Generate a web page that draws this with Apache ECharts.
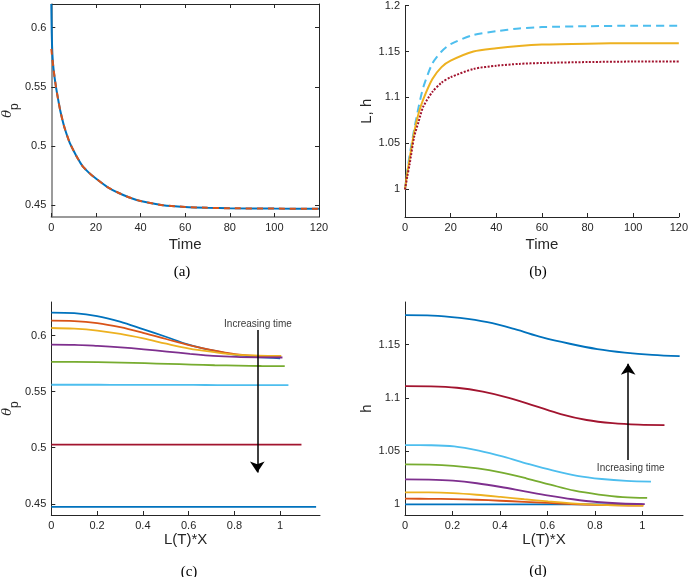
<!DOCTYPE html>
<html>
<head>
<meta charset="utf-8">
<script src="https://cdn.jsdelivr.net/npm/echarts@6/dist/echarts.min.js"></script>
<style>
html,body{margin:0;padding:0;background:#fff;}
#main{width:691px;height:577px;}
</style>
</head>
<body>
<div id="main"></div>
<script>
// (a) theta_p against time
var timeA = [0,1,2,3,4,5,6,8,10,12,14,16,18,20,25,30,35,40,50,60,70,80,100,120];
var thetaDashA = [0.582,0.565,0.551,0.540,0.530,0.522,0.515,0.504,0.496,0.489,0.483,0.479,0.4755,0.4725,0.4655,0.4605,0.4565,0.4535,0.450,0.4485,0.4478,0.4474,0.4471,0.447];
var timeBlueA = [0,0.2,0.5,1,2,3,4,5,6,8,10,12,14,16,18,20,25,30,35,40,50,60,70,80,100,120];
var thetaBlueA = [0.62,0.595,0.577,0.565,0.551,0.540,0.530,0.522,0.515,0.504,0.496,0.489,0.483,0.479,0.4755,0.4725,0.4655,0.4605,0.4565,0.4535,0.450,0.4485,0.4478,0.4474,0.4471,0.447];

// (b) L and h against time
var timeB = [0,1,2,4,6,8,12,16,20,30,40,50,60,80,100,120];
var dashB = [1.0,1.02,1.037,1.065,1.09,1.111,1.137,1.15,1.158,1.168,1.172,1.175,1.1765,1.1775,1.178,1.178];
var solidB = [1.0,1.018,1.033,1.062,1.083,1.098,1.12,1.133,1.14,1.15,1.1535,1.156,1.1575,1.1585,1.159,1.159];
var dotB = [1.0,1.014,1.027,1.057,1.074,1.09,1.106,1.116,1.122,1.131,1.1345,1.1365,1.1375,1.1385,1.139,1.139];

// (c),(d) profiles, X in [0,1] scaled by L(T)
var fracX = [0,0.1,0.2,0.3,0.4,0.5,0.6,0.7,0.8,0.9,1];
var lenT = [1.0,1.003,1.005,1.01,1.02,1.036,1.093,1.157];
var thetaC = [
	[0.6205,0.620,0.6175,0.6125,0.6058,0.599,0.592,0.587,0.583,0.5808,0.5798],
	[0.6133,0.613,0.6112,0.6075,0.6025,0.597,0.5915,0.587,0.5835,0.5818,0.5812],
	[0.6068,0.6062,0.6045,0.6015,0.5975,0.5928,0.5885,0.5855,0.583,0.5822,0.582],
	[0.592,0.5918,0.5908,0.5895,0.5878,0.5858,0.5838,0.582,0.581,0.5806,0.5805],
	[0.5766,0.5766,0.5764,0.576,0.5754,0.5748,0.5742,0.5736,0.5732,0.5729,0.5728],
	[0.5562,0.5562,0.5562,0.5561,0.5561,0.556,0.556,0.5559,0.5559,0.5558,0.5558],
	[0.5028,0.5028,0.5028,0.5028,0.5028,0.5027,0.5027,0.5027,0.5027,0.5027,0.5027],
	[0.4473,0.4473,0.4473,0.4473,0.4473,0.4473,0.4473,0.4473,0.4473,0.4473,0.4473]
];
var hD = [
	[1.0,1.0,1.0,1.0,1.0,1.0,1.0,1.0,1.0,1.0,1.0],
	[1.0053,1.0052,1.0049,1.0043,1.0034,1.0024,1.0013,1.0003,0.9995,0.999,0.9988],
	[1.0113,1.0112,1.0105,1.009,1.007,1.0048,1.0027,1.001,0.9998,0.9991,0.9988],
	[1.0234,1.0232,1.0222,1.0198,1.0163,1.0122,1.0082,1.0048,1.0022,1.0008,1.0003],
	[1.0375,1.0373,1.0362,1.0338,1.0298,1.0245,1.0185,1.0128,1.0092,1.0068,1.006],
	[1.0556,1.0555,1.0545,1.0505,1.0448,1.038,1.0318,1.0268,1.0238,1.022,1.0213],
	[1.111,1.1108,1.1095,1.1058,1.1,1.0925,1.0848,1.0792,1.0762,1.0748,1.0744],
	[1.1776,1.1773,1.175,1.171,1.1645,1.1568,1.1508,1.1458,1.1425,1.1403,1.1391]
];
var lineColors = ['#0072BD','#D95319','#EDB120','#7E2F8E','#77AC30','#4DBEEE','#A2142F','#0072BD'];

var timeTicks = [0,20,40,60,80,100,120];
var xTicksCD = [0,0.2,0.4,0.6,0.8,1];
var yTicksA = [0.45,0.5,0.55,0.6];
var yTicksB = [1,1.05,1.1,1.15,1.2];
var yTicksC = [0.45,0.5,0.55,0.6];
var yTicksD = [1,1.05,1.1,1.15];

var FONT = 'Liberation Sans';
var TXT = '#262626';

function pairs(xs, ys) {
	return xs.map(function(x, i){ return [x, ys[i]]; });
}
function profile(vals, len) {
	return fracX.map(function(f, i){ return [f * len, vals[i]]; });
}
function valAxis(grid, pos, min, max, ticks, opts) {
	var ax = {
		type: 'value', gridIndex: grid, position: pos, min: min, max: max,
		axisLine: {show: true, onZero: false, lineStyle: {color: TXT, width: 1}},
		axisTick: {show: true, inside: true, length: 4, customValues: ticks, lineStyle: {color: TXT}},
		axisLabel: {show: true, customValues: ticks, margin: 5, color: TXT, fontFamily: FONT, fontSize: 11},
		splitLine: {show: false}
	};
	opts = opts || {};
	for (var k in opts) ax[k] = opts[k];
	return ax;
}
var thetaName = '{t|θ}{s|p}';
var thetaRich = {
	t: {fontFamily: 'DejaVu Serif', fontStyle: 'italic', fontSize: 13, color: TXT, verticalAlign: 'top'},
	s: {fontFamily: FONT, fontSize: 12, color: TXT, verticalAlign: 'top', padding: [8,0,0,0]}
};
function xName(text, gap) {
	return {name: text, nameLocation: 'middle', nameGap: gap,
		nameTextStyle: {color: TXT, fontFamily: FONT, fontSize: 15}};
}

var xAxes = [
	valAxis(0, 'bottom', 0, 120, timeTicks, xName('Time', 20)),
	valAxis(1, 'bottom', 0, 120, timeTicks, xName('Time', 20)),
	valAxis(2, 'bottom', 0, 1.174, xTicksCD, xName('L(T)*X', 15)),
	valAxis(3, 'bottom', 0, 1.171, xTicksCD, xName('L(T)*X', 15)),
	valAxis(0, 'top', 0, 120, timeTicks)
];
xAxes[4].axisLabel = {show: false};
xAxes[0].axisLine.lineStyle = {color: '#7a7a7a', width: 1.5};

var yAxes = [
	valAxis(0, 'left', 0.44, 0.62, yTicksA, {name: thetaName, nameLocation: 'middle', nameGap: 25, nameTextStyle: {rich: thetaRich}}),
	valAxis(1, 'left', 0.97, 1.2, yTicksB, {name: 'L, h', nameLocation: 'middle', nameGap: 26, nameTextStyle: {color: TXT, fontFamily: FONT, fontSize: 15}}),
	valAxis(2, 'left', 0.44, 0.63, yTicksC, {name: thetaName, nameLocation: 'middle', nameGap: 25, nameTextStyle: {rich: thetaRich}}),
	valAxis(3, 'left', 0.99, 1.19, yTicksD, {name: 'h', nameLocation: 'middle', nameGap: 30, nameTextStyle: {color: TXT, fontFamily: FONT, fontSize: 15}}),
	valAxis(0, 'right', 0.44, 0.62, yTicksA)
];
yAxes[4].axisLabel = {show: false};
yAxes[0].axisLine.lineStyle = {color: '#7a7a7a', width: 1.5};

function curve(xi, yi, data, color, width, type, smooth) {
	return {
		type: 'line', xAxisIndex: xi, yAxisIndex: yi, data: data,
		showSymbol: false, symbol: 'none', smooth: smooth === undefined ? 0.35 : smooth,
		lineStyle: {color: color, width: width, type: type || 'solid', cap: 'butt'},
		silent: true, animation: false
	};
}
function arrow(xi, yi, from, to) {
	return {
		type: 'lines', coordinateSystem: 'cartesian2d', xAxisIndex: xi, yAxisIndex: yi,
		symbol: ['none', 'arrow'], symbolSize: [7, 11],
		lineStyle: {color: '#000', width: 1.5, opacity: 1, curveness: 0},
		data: [{coords: [from, to]}], silent: true, animation: false, z: 5
	};
}
function note(xi, yi, pos, text) {
	return {
		type: 'scatter', xAxisIndex: xi, yAxisIndex: yi, data: [pos], symbolSize: 0,
		label: {show: true, position: 'inside', formatter: text, color: '#000', fontFamily: FONT, fontSize: 10},
		silent: true, animation: false, z: 6
	};
}

var series = [];
series.push(curve(0, 0, pairs(timeBlueA, thetaBlueA), '#0072BD', 2, 'solid', 0.2));
series.push(curve(0, 0, pairs(timeA, thetaDashA), '#D95319', 2, [6, 5], 0.2));

series.push(curve(1, 1, pairs(timeB, dashB), '#4DBEEE', 2, [8, 5], 0.25));
series.push(curve(1, 1, pairs(timeB, solidB), '#EDB120', 2, 'solid', 0.25));
series.push(curve(1, 1, pairs(timeB, dotB), '#A2142F', 2, [2, 1.5], 0.25));

for (var i = 0; i < lenT.length; i++) {
	series.push(curve(2, 2, profile(thetaC[i], lenT[i]), lineColors[i], 1.8));
	series.push(curve(3, 3, profile(hD[i], lenT[i]), lineColors[i], 1.8));
}
series.push(arrow(2, 2, [0.9, 0.605], [0.9, 0.478]));
series.push(note(2, 2, [0.903, 0.6101], 'Increasing time'));
series.push(arrow(3, 3, [0.94, 1.0416], [0.94, 1.132]));
series.push(note(3, 3, [0.951, 1.0343], 'Increasing time'));

function caption(x, y, text) {
	return {type: 'text', x: x, y: y, style: {text: text, fill: '#000', fontFamily: 'Liberation Serif', fontSize: 15, align: 'center', verticalAlign: 'middle'}};
}

var myChart = echarts.init(document.getElementById('main'));
myChart.setOption({
	animation: false,
	backgroundColor: '#fff',
	grid: [
		{left: 45, top: 4, width: 274, height: 213},
		{left: 405, top: 4, width: 278, height: 213},
		{left: 45, top: 302, width: 275, height: 213},
		{left: 405, top: 302, width: 278, height: 213}
	],
	xAxis: xAxes,
	yAxis: yAxes,
	series: series,
	graphic: [
		caption(182, 272, '(a)'),
		caption(538, 272, '(b)'),
		caption(189, 572, '(c)'),
		caption(538, 571, '(d)')
	]
});
</script>
</body>
</html>
